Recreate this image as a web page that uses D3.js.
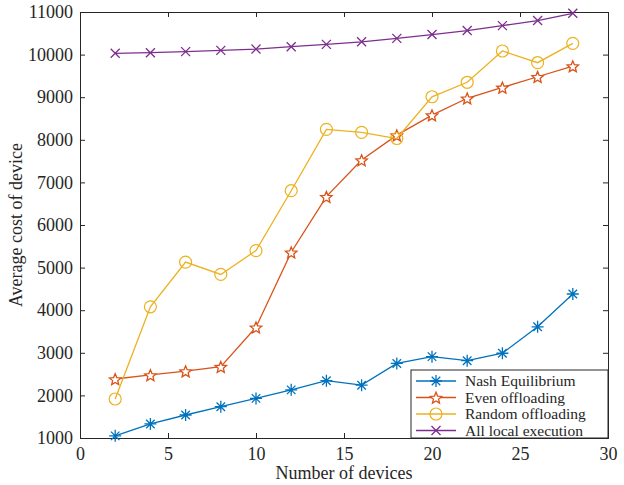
<!DOCTYPE html>
<html><head><meta charset="utf-8">
<script src="https://cdn.jsdelivr.net/npm/d3@7"></script>
<style>body{margin:0;background:#fff}svg{display:block}text{font-family:"Liberation Serif","Times New Roman",serif;fill:#262626}</style>
</head><body><svg id="c" width="624" height="485"></svg>
<script>
const devices = [2,4,6,8,10,12,14,16,18,20,22,24,26,28];
const nash = [1050,1330,1540,1735,1930,2130,2345,2240,2750,2910,2815,2990,3610,4380];
const even = [2385,2480,2570,2675,3600,5360,6665,7525,8110,8580,8975,9230,9480,9730];
const random = [1915,4080,5130,4840,5400,6805,8245,8175,8030,9010,9350,10085,9810,10265];
const local = [10030,10045,10070,10100,10130,10185,10240,10300,10380,10470,10565,10680,10800,10970];
const seriesNames = ["Nash Equilibrium","Even offloading","Random offloading","All local execution"];
const xTicks = [0,5,10,15,20,25,30];
const yTicks = [1000,2000,3000,4000,5000,6000,7000,8000,9000,10000,11000];

const colors = ["#0072BD","#D95319","#EDB120","#7E2F8E"];
const markers = ["star","pent","circle","x"];
const series = [nash,even,random,local];

const svg = d3.select("#c");
const L=80,R=608,T=12,B=438;
const x = d3.scaleLinear().domain([0,30]).range([L,R]);
const y = d3.scaleLinear().domain([1000,11000]).range([B,T]);

const g = svg.append("g");
const fmt = d3.format("d");
const ax = g.append("g").attr("transform",`translate(0,${B})`).call(d3.axisBottom(x).tickValues(xTicks).tickSize(-5).tickPadding(9).tickFormat(fmt));
const ay = g.append("g").attr("transform",`translate(${L},0)`).call(d3.axisLeft(y).tickValues(yTicks).tickSize(-5).tickPadding(7).tickFormat(fmt));
const axT = g.append("g").attr("transform",`translate(0,${T})`).call(d3.axisTop(x).tickValues(xTicks).tickSize(-5).tickFormat(""));
const ayR = g.append("g").attr("transform",`translate(${R},0)`).call(d3.axisRight(y).tickValues(yTicks).tickSize(-5).tickFormat(""));
[ax,ay,axT,ayR].forEach(a=>{
  a.attr("font-family","Liberation Serif").attr("font-size",18);
  a.select(".domain").attr("stroke","#262626").attr("stroke-width",1);
  a.selectAll(".tick line").attr("stroke","#262626");
  a.selectAll("text").attr("fill","#262626");
});

svg.append("text").attr("x",(L+R)/2).attr("y",479).attr("text-anchor","middle").style("font-size","18px").text("Number of devices");
svg.append("text").attr("transform",`translate(22,${(T+B)/2}) rotate(-90)`).attr("text-anchor","middle").style("font-size","18px").text("Average cost of device");

function drawMarker(sel, type, color){
  if(type==="star"){
    const s=6;
    const p=[];
    for(let i=0;i<4;i++){const a=i*Math.PI/4;p.push(`M${-s*Math.cos(a)},${-s*Math.sin(a)}L${s*Math.cos(a)},${s*Math.sin(a)}`);}
    sel.append("path").attr("d",p.join("")).attr("stroke",color).attr("stroke-width",1.3).attr("fill","none");
  } else if(type==="pent"){
    const ro=6, ri=ro*0.45; let d="";
    for(let i=0;i<10;i++){const r=i%2?ri:ro;const a=-Math.PI/2+i*Math.PI/5;d+=(i?"L":"M")+(r*Math.cos(a)).toFixed(2)+","+(r*Math.sin(a)+0.8).toFixed(2);}
    sel.append("path").attr("d",d+"Z").attr("stroke",color).attr("stroke-width",1.3).attr("fill","#fff");
  } else if(type==="circle"){
    sel.append("circle").attr("r",6).attr("stroke",color).attr("stroke-width",1.2).attr("fill","none");
  } else {
    const s=4.5;
    sel.append("path").attr("d",`M${-s},${-s}L${s},${s}M${-s},${s}L${s},${-s}`).attr("stroke",color).attr("stroke-width",1.3);
  }
}

const line = d3.line().x((d,i)=>x(devices[i])).y(d=>y(d));
series.forEach((s,k)=>{
  g.append("path").datum(s).attr("d",line).attr("fill","none").attr("stroke",colors[k]).attr("stroke-width",1.3);
  s.forEach((v,i)=>{
    const m=g.append("g").attr("transform",`translate(${x(devices[i])},${y(v)})`);
    drawMarker(m,markers[k],colors[k]);
  });
});

const lg = svg.append("g");
lg.append("rect").attr("x",411).attr("y",370).attr("width",197).attr("height",68).attr("fill","#fff").attr("stroke","#262626").attr("stroke-width",1);
seriesNames.forEach((n,k)=>{
  const yy=381+k*16.5;
  lg.append("line").attr("x1",416).attr("x2",456).attr("y1",yy).attr("y2",yy).attr("stroke",colors[k]).attr("stroke-width",1.3);
  const m=lg.append("g").attr("transform",`translate(436,${yy})`);
  drawMarker(m,markers[k],colors[k]);
  lg.append("text").attr("x",465).attr("y",yy+5).style("font-size","15.5px").text(n);
});
</script></body></html>
